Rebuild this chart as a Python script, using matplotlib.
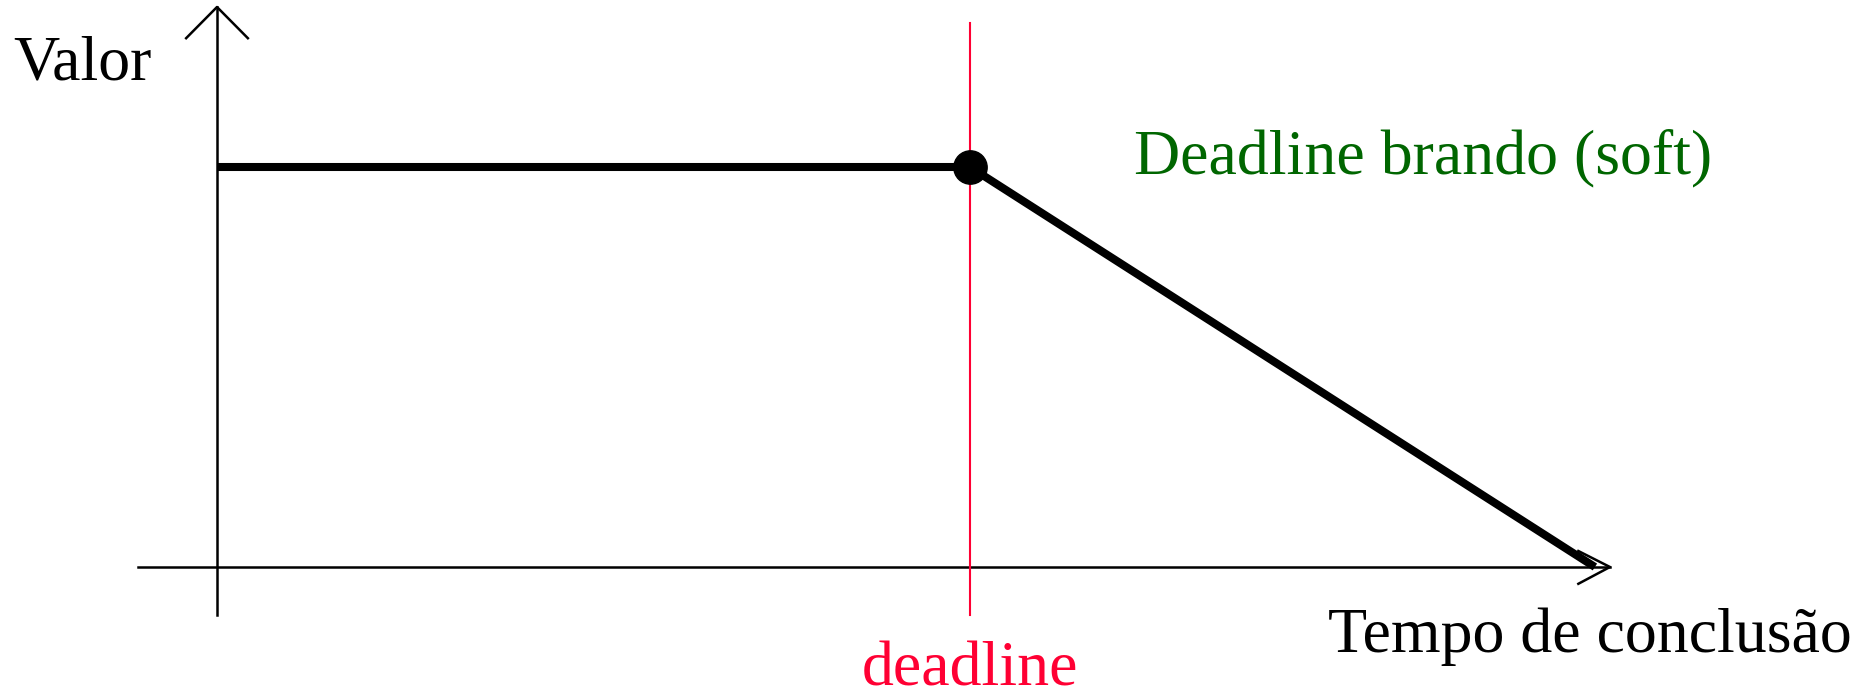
import matplotlib
matplotlib.use('Agg')
import matplotlib.pyplot as plt

# soft deadline value function: constant up to the deadline, then falls linearly to zero
tempo = [0.0, 1.0, 1.83]
valor = [1.0, 1.0, 0.0]
deadline = 1.0

plt.rcParams['font.family'] = ['Liberation Serif', 'DejaVu Serif']

fig = plt.figure(figsize=(18.72, 6.91), dpi=100)
ax = fig.add_axes([0, 0, 1, 1])
ax.set_xlim(-0.2882, 2.198)
ax.set_ylim(-0.31, 1.4175)
ax.axis('off')

# axes with open arrowheads
ax.plot([0, 0], [-0.12, 1.4], color='black', lw=1.8)
ax.plot([-0.041, 0, 0.041], [1.322, 1.4, 1.322], color='black', lw=1.8)
ax.plot([-0.105, 1.85], [0, 0], color='black', lw=1.8)
ax.plot([1.808, 1.85, 1.808], [0.04, 0, -0.042], color='black', lw=1.8)

# deadline marker
ax.plot([deadline, deadline], [-0.12, 1.36], color='#ff0033', lw=1.5)

ax.plot(tempo, valor, color='black', lw=5.8, solid_capstyle='butt')
ax.plot([deadline], [1.0], 'o', color='black', markersize=24)

ax.text(-0.27, 1.22, 'Valor', fontsize=46, color='black', va='baseline', ha='left')
ax.text(1.218, 0.983, 'Deadline brando (soft)', fontsize=46, color='#006600',
        va='baseline', ha='left')
ax.text(1.475, -0.2125, 'Tempo de conclusão', fontsize=46, color='black',
        va='baseline', ha='left')
ax.text(deadline, -0.295, 'deadline', fontsize=46, color='#ff0033', va='baseline',
        ha='center')

plt.savefig('out.png', dpi=100)
plt.close()
